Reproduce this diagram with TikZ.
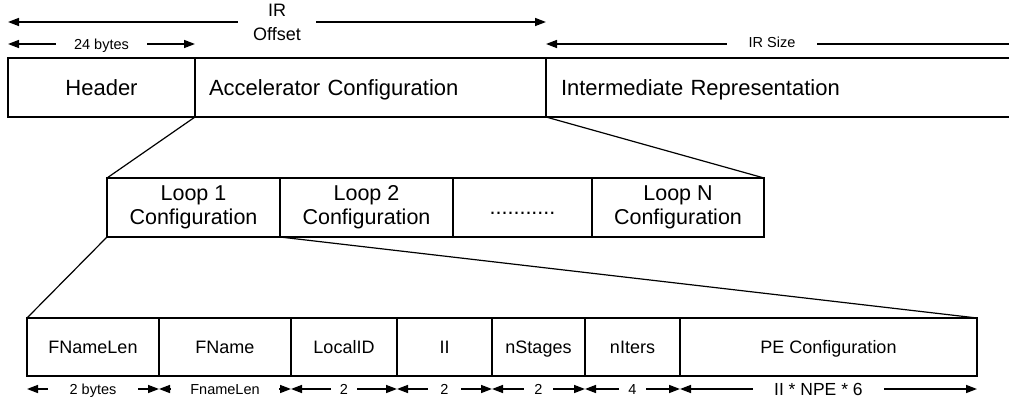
\documentclass[tikz,border=0pt]{standalone}
\usepackage{fontspec}
\setmainfont{Liberation Sans}
\usetikzlibrary{arrows.meta,positioning}

\begin{document}
\begin{tikzpicture}[
    x=1pt,y=-1pt,
    >={Triangle[length=11pt,width=8pt]},
    every node/.style={inner sep=0pt,outer sep=0pt},
    box/.style={draw,line width=1.6pt,minimum height=59pt},
    top/.style={font=\fontsize{22}{26}\selectfont,text height=15.8pt,text depth=0pt},
    mid/.style={font=\fontsize{21.5}{24}\selectfont,align=center},
    fld/.style={box,minimum height=58pt,font=\fontsize{18}{21}\selectfont,text height=13pt,text depth=0pt},
    dim/.style={<->,line width=1.5pt},
    dl/.style={fill=white,font=\fontsize{14.5}{17}\selectfont,text height=10.5pt,text depth=0pt},
    fan/.style={line width=1.2pt},
  ]
  \useasboundingbox (0,0) rectangle (1009,398);
  \clip (0,0) rectangle (1009,398);

  % -- the file: header, accelerator part, IR --
  \node[box,top,minimum width=187pt,anchor=north west] (hdr) at (8,58) {Header};
  \node[box,top,text width=323pt,inner xsep=14pt,align=left,right=0pt of hdr] (acc) {Accelerator Configuration};
  \node[box,top,text width=464pt,inner xsep=15pt,align=left,right=0pt of acc] (ir) {Intermediate Representation};

  % -- one configuration per loop --
  \node[box,mid,minimum width=173pt,anchor=north west] (loop1) at (107,178) {Loop 1\\Configuration};
  \node[box,mid,minimum width=173pt,right=0pt of loop1] (loop2) {Loop 2\\Configuration};
  \node[box,mid,minimum width=139pt,right=0pt of loop2] (dots) {\vphantom{L}...........};
  \node[box,mid,minimum width=172pt,right=0pt of dots] (loopN) {Loop N\\Configuration};

  % -- the fields of one loop --
  \node[fld,minimum width=132pt,anchor=north west] (fnl) at (27,318) {FNameLen};
  \node[fld,minimum width=132pt,right=0pt of fnl] (fnm) {FName};
  \node[fld,minimum width=106pt,right=0pt of fnm] (lid) {LocalID};
  \node[fld,minimum width=95pt,right=0pt of lid] (ii) {II};
  \node[fld,minimum width=93pt,right=0pt of ii] (nst) {nStages};
  \node[fld,minimum width=95pt,right=0pt of nst] (nit) {nIters};
  \node[fld,minimum width=297pt,right=0pt of nit] (pe) {PE Configuration};

  % -- zoom lines --
  \draw[fan] (acc.south west) -- (loop1.north west);
  \draw[fan] (acc.south east) -- (loopN.north east);
  \draw[fan] (loop1.south west) -- (fnl.north west);
  \draw[fan] (loop1.south east) -- (pe.north east);

  % -- sizes above the file --
  \draw[dim] ([yshift=36pt]hdr.north west) -- ([yshift=36pt]acc.north east)
    node[midway,fill=white,align=center,font=\fontsize{18}{24}\selectfont,inner xsep=15pt] (offs) {IR\\Offset};
  \draw[dim] ([yshift=14pt]hdr.north west) -- ([yshift=14pt]hdr.north east)
    node[midway,dl,inner xsep=18pt] (hdrlen) {24 bytes};
  \draw[dim] ([yshift=14pt]ir.north west) -- ([yshift=14pt]ir.north east)
    node[pos=.4575,dl,inner xsep=22pt,yshift=2pt] (irlen) {IR Size};

  % -- sizes below the fields --
  \foreach \f/\t/\s in {fnl/2 bytes/22, fnm/FnameLen/19, lid/2/8.5, ii/2/12, nst/2/10.5, nit/4/9}{%
    \draw[dim] ([yshift=-13pt]\f.south west) -- ([yshift=-13pt]\f.south east)
      node[midway,dl,inner xsep=\s pt] (\f-len) {\t};}
  \draw[dim] ([yshift=-13pt]pe.south west) -- ([yshift=-13pt]pe.south east)
    node[pos=.466,dl,font=\fontsize{17.5}{20}\selectfont,text height=12.5pt,inner xsep=21pt] (pe-len) {II * NPE * 6};
\end{tikzpicture}
\end{document}
